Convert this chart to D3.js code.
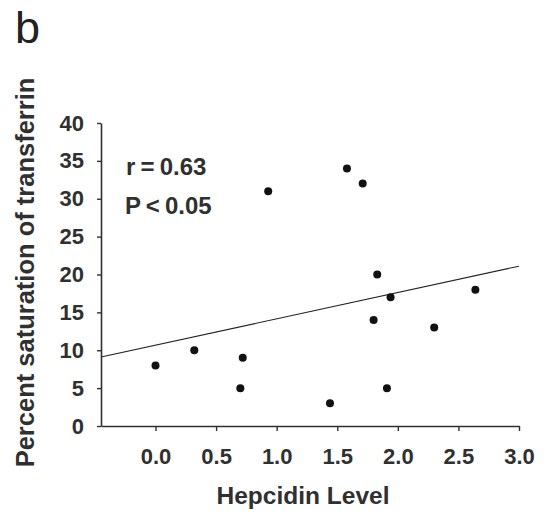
<!DOCTYPE html>
<html>
<head>
<meta charset="utf-8">
<script src="https://cdn.jsdelivr.net/npm/d3@7"></script>
<style>
  body { margin: 0; background: #fff; }
  svg { display: block; }
</style>
</head>
<body>
<svg id="chart" width="547" height="514" viewBox="0 0 547 514"></svg>
<script>
// hepcidin level vs percent saturation of transferrin
const hepcidin = [0.0, 0.32, 0.72, 0.70, 0.93, 1.58, 1.71, 1.83, 1.94, 2.64, 1.80, 2.30, 1.91, 1.44];
const saturation = [8, 10, 9, 5, 31, 34, 32, 20, 17, 18, 14, 13, 5, 3];

// fitted line end points
const fitX = [-0.45, 3.0];
const fitY = [9.1, 21.1];

const xTicks = [0, 0.5, 1.0, 1.5, 2.0, 2.5, 3.0];
const yTicks = [0, 5, 10, 15, 20, 25, 30, 35, 40];

const margins = { left: 101, top: 123, right: 28, bottom: 88 };

const svgEl = d3.select("#chart");
const viewBox = svgEl.attr("viewBox").split(" ");
const width = viewBox[2] - margins.left - margins.right;
const height = viewBox[3] - margins.top - margins.bottom;

const xScale = d3.scaleLinear().domain([-0.45, 3.0]).range([0, width]);
const yScale = d3.scaleLinear().domain([0, 40]).range([height, 0]);

const font = "Arial, 'Liberation Sans', Helvetica, sans-serif";
const ink = "#303030";

const g = svgEl
  .append("g")
  .attr("transform", `translate(${margins.left} ${margins.top})`);

// axes
const xAxis = d3
  .axisBottom(xScale)
  .tickValues(xTicks)
  .tickFormat(d3.format(".1f"))
  .tickSizeInner(5)
  .tickSizeOuter(0)
  .tickPadding(17);

const yAxis = d3
  .axisLeft(yScale)
  .tickValues(yTicks)
  .tickSizeInner(4)
  .tickSizeOuter(0)
  .tickPadding(13);

const xAxisG = g
  .append("g")
  .attr("transform", `translate(0 ${height})`)
  .call(xAxis);

const yAxisG = g.append("g").call(yAxis);

[xAxisG, yAxisG].forEach((a) => {
  a.select("path").attr("stroke", ink).attr("stroke-width", 1.6);
  a.selectAll("line").attr("stroke", ink).attr("stroke-width", 1.4);
  a.selectAll("text")
    .attr("fill", ink)
    .style("font-family", font)
    .style("font-weight", "bold")
    .style("font-size", "22px");
});

// regression line
const line = d3
  .line()
  .x((d) => xScale(d[0]))
  .y((d) => yScale(d[1]));

g.append("path")
  .datum(d3.zip(fitX, fitY))
  .attr("d", line)
  .attr("fill", "none")
  .attr("stroke", "#222")
  .attr("stroke-width", 1.1);

// points
g.selectAll("circle.pt")
  .data(d3.zip(hepcidin, saturation))
  .enter()
  .append("circle")
  .attr("class", "pt")
  .attr("cx", (d) => xScale(d[0]))
  .attr("cy", (d) => yScale(d[1]))
  .attr("r", 4)
  .attr("fill", "#111");

// stats
const stats = g
  .append("g")
  .style("font-family", font)
  .style("font-weight", "bold")
  .style("font-size", "24px")
  .style("word-spacing", "-1.5px")
  .attr("fill", ink);

stats.append("text").attr("x", 25).attr("y", 52).text("r = 0.63");
stats.append("text").attr("x", 24).attr("y", 91).text("P < 0.05");

// axis titles
g.append("text")
  .attr("x", width / 2 - 7)
  .attr("y", height + 78)
  .attr("text-anchor", "middle")
  .attr("fill", ink)
  .style("font-family", font)
  .style("font-weight", "bold")
  .style("font-size", "24.5px")
  .text("Hepcidin Level");

g.append("text")
  .attr("transform", `translate(${34 - margins.left} ${height / 2 - 2}) rotate(-90)`)
  .attr("text-anchor", "middle")
  .attr("fill", ink)
  .style("font-family", font)
  .style("font-weight", "bold")
  .style("font-size", "25.5px")
  .text("Percent saturation of transferrin");

// panel letter
svgEl
  .append("text")
  .attr("x", 15)
  .attr("y", 43)
  .attr("fill", "#222")
  .style("font-family", font)
  .style("font-size", "45px")
  .text("b");
</script>
</body>
</html>
